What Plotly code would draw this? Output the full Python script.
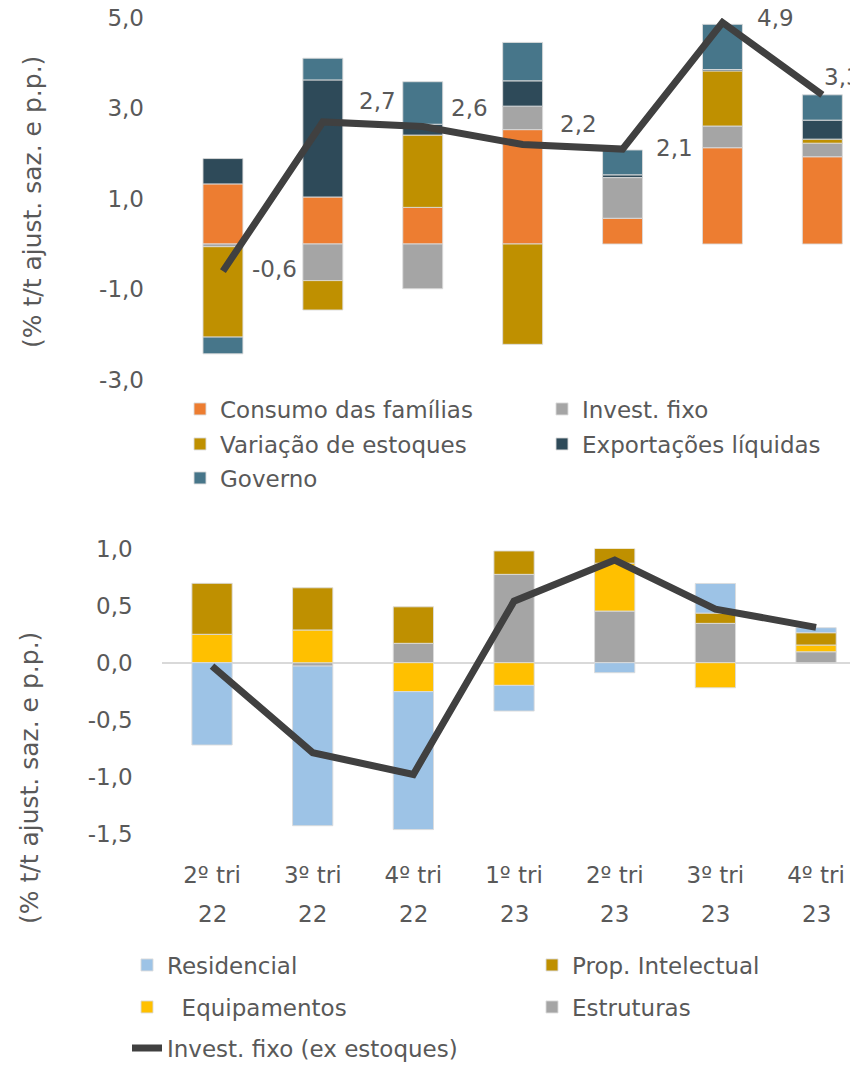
import plotly.graph_objects as go

# ---------------- data ----------------
quarters = ["2º tri 22", "3º tri 22", "4º tri 22", "1º tri 23",
            "2º tri 23", "3º tri 23", "4º tri 23"]
quarter_line1 = ["2º tri", "3º tri", "4º tri", "1º tri", "2º tri", "3º tri", "4º tri"]
quarter_line2 = ["22", "22", "22", "23", "23", "23", "23"]

# top chart: GDP contributions (p.p.)
consumo = [1.33, 1.04, 0.81, 2.53, 0.57, 2.13, 1.93]
invest = [-0.06, -0.81, -0.99, 0.52, 0.90, 0.48, 0.30]
estoques = [-2.00, -0.65, 1.60, -2.22, 0.00, 1.22, 0.09]
exportacoes = [0.56, 2.59, 0.24, 0.56, 0.06, 0.03, 0.42]
governo = [-0.37, 0.48, 0.94, 0.85, 0.55, 1.00, 0.56]
pib = [-0.6, 2.7, 2.6, 2.2, 2.1, 4.9, 3.3]

# bottom chart: fixed investment components (p.p.)
estruturas = [0.00, -0.03, 0.17, 0.775, 0.453, 0.345, 0.096]
equipamentos = [0.249, 0.287, -0.254, -0.199, 0.42, -0.22, 0.059]
prop_int = [0.447, 0.37, 0.32, 0.205, 0.13, 0.09, 0.108]
residencial = [-0.722, -1.40, -1.21, -0.225, -0.088, 0.26, 0.044]
invest_ex = [-0.03, -0.79, -0.98, 0.54, 0.90, 0.47, 0.31]

top_ticks = [-3, -1, 1, 3, 5]
bot_ticks = [-1.5, -1.0, -0.5, 0.0, 0.5, 1.0]

# ---------------- style / layout ----------------
FONT = "DejaVu Sans"
TXT = "#595959"
FS = 23
OFF = 8                      # page body margin of the html page
W, H = 858 - OFF, 1065 - OFF  # figure size so that it fills the window
edge = dict(color="rgba(220,220,220,0.9)", width=1)


def px(xp):
    return (xp - OFF) / W


def py(yp):
    return 1 - (yp - OFF) / H


def fmt(v):
    return f"{v:.1f}".replace(".", ",")


fig = go.Figure()

# (name, values, colour, legend row, legend width)
top_series = [
    ("Consumo das famílias", consumo, "#ED7D31", "legend", 317),
    ("Invest. fixo", invest, "#A5A5A5", "legend", 250),
    ("Variação de estoques", estoques, "#BF9000", "legend5", 317),
    ("Exportações líquidas", exportacoes, "#2E4A59", "legend5", 250),
    ("Governo", governo, "#47768A", "legend6", 250),
]
for name, vals, col, leg, lw in top_series:
    fig.add_trace(go.Bar(x=quarters, y=vals, name=name, marker=dict(color=col, line=edge),
                         xaxis="x", yaxis="y", legend=leg, legendwidth=lw))
fig.add_trace(go.Scatter(x=quarters, y=pib, mode="lines", line=dict(color="#404040", width=7),
                         showlegend=False, xaxis="x", yaxis="y"))

bot_series = [
    ("Estruturas", estruturas, "#A5A5A5", "legend3", 2, 200),
    ("\u00a0\u00a0Equipamentos", equipamentos, "#FFC000", "legend3", 1, 360),
    ("Prop. Intelectual", prop_int, "#BF9000", "legend2", 2, 220),
    ("Residencial", residencial, "#9DC3E6", "legend2", 1, 360),
]
for name, vals, col, leg, rank, lw in bot_series:
    fig.add_trace(go.Bar(x=quarters, y=vals, name=name, marker=dict(color=col, line=edge),
                         xaxis="x2", yaxis="y2", legend=leg, legendrank=rank, legendwidth=lw))
fig.add_trace(go.Scatter(x=quarters, y=invest_ex, mode="lines", name="Invest. fixo (ex estoques)",
                         line=dict(color="#404040", width=7), xaxis="x2", yaxis="y2",
                         legend="legend4"))

# data labels of the top line (offsets in px relative to each point)
label_dx = [27, 34, 26, 35, 31, 33, 0]
label_dy = [2, 21, 18, 21, 1, 5, 18]
annotations = []
for q, v, dx, dy in zip(quarters, pib, label_dx, label_dy):
    annotations.append(dict(x=q, y=v, xref="x", yref="y", text=fmt(v), showarrow=False,
                            xanchor="left", yanchor="middle", xshift=dx, yshift=dy,
                            font=dict(family=FONT, size=FS, color=TXT)))

# second line of the category labels (year)
for q, yr in zip(quarters, quarter_line2):
    annotations.append(dict(x=q, y=py(914), xref="x2", yref="paper", text=yr, showarrow=False,
                            xanchor="center", yanchor="middle",
                            font=dict(family=FONT, size=FS, color=TXT)))

ytitle = "(% t/t ajust. saz. e p.p.)"
for tx, ty in [(32, 202), (30, 778)]:
    annotations.append(dict(x=px(tx), y=py(ty), xref="paper", yref="paper", text=ytitle,
                            xanchor="center", yanchor="middle", textangle=-90, showarrow=False,
                            font=dict(family=FONT, size=25, color=TXT)))

axfont = dict(family=FONT, size=FS, color=TXT)


def leg(x_px, y_px):
    return dict(orientation="h", x=px(x_px), xanchor="left", y=py(y_px), yanchor="middle",
                font=dict(family=FONT, size=FS, color=TXT), bgcolor="rgba(0,0,0,0)",
                traceorder="normal")


x_top_left, x_bot_left = 173, 161.7
slot_top, slot_bot = 99.9, 100.67

fig.update_layout(
    width=W, height=H,
    margin=dict(l=0, r=0, t=0, b=0, autoexpand=False),
    paper_bgcolor="white", plot_bgcolor="white",
    barmode="relative", bargap=0.6,
    font=dict(family=FONT, size=FS, color=TXT),
    xaxis=dict(domain=[px(x_top_left), 1], range=[-0.5, -0.5 + (858 - x_top_left) / slot_top],
               showticklabels=False, anchor="y", type="category",
               showgrid=False, zeroline=False, showline=False),
    yaxis=dict(domain=[py(379.6), py(18)], range=[-3, 5], tickvals=top_ticks, anchor="x",
               ticktext=[fmt(t) for t in top_ticks], tickfont=axfont, showgrid=False,
               zeroline=False, showline=False, ticklabelstandoff=28,
               ticklabeloverflow="allow"),
    xaxis2=dict(domain=[px(x_bot_left), 1], range=[-0.5, -0.5 + (858 - x_bot_left) / slot_bot],
                type="category", tickvals=quarters, ticktext=quarter_line1,
                tickfont=axfont, anchor="y2", ticklabeloverflow="allow",
                showgrid=False, zeroline=False, showline=False, ticklabelstandoff=25),
    yaxis2=dict(domain=[py(833.7), py(548.7)], range=[-1.5, 1.0], tickvals=bot_ticks,
                ticktext=[fmt(t) for t in bot_ticks], tickfont=axfont, showgrid=False,
                anchor="x2", zeroline=True, zerolinecolor="#D9D9D9", zerolinewidth=2,
                showline=False, ticklabelstandoff=28, ticklabeloverflow="allow"),
    legend=leg(180, 409),
    legend5=leg(180, 444),
    legend6=leg(180, 478),
    legend2=leg(127, 965),
    legend3=leg(127, 1007),
    legend4=leg(127, 1048),
    annotations=annotations,
    showlegend=True,
)

fig.write_html("out.html")
